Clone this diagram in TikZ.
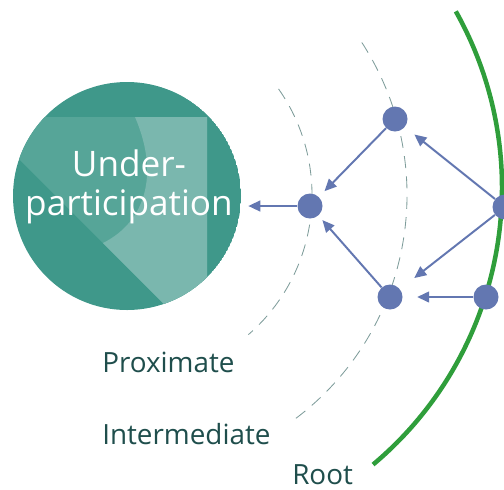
\documentclass[tikz,border=0pt]{standalone}
\usepackage{fontspec}
\setmainfont{Open Sans}
\usetikzlibrary{arrows.meta}
\definecolor{tealdark}{HTML}{3F988A}
\definecolor{tealmid}{HTML}{56A598}
\definecolor{teallight}{HTML}{7AB7AE}
\definecolor{dotblue}{HTML}{6377B1}
\definecolor{rootgreen}{HTML}{2F9E3B}
\definecolor{ringgray}{HTML}{7E9C9A}
\definecolor{tagtext}{HTML}{1F4E4C}
\begin{document}
\begin{tikzpicture}[x=0.025cm, y=-0.025cm,
        blob/.style={circle, fill=dotblue, inner sep=0pt, minimum size=0.625cm},
        flow/.style={draw=dotblue, line width=1.4pt, -{Triangle[length=0.3cm, width=0.27cm]}, shorten >=0.2cm},
        ring/.style={draw=ringgray, line width=0.6pt, dash pattern=on 8.5pt off 6pt},
        tag/.style={text=tagtext, font=\fontsize{19.8}{23}\selectfont, inner sep=0pt, anchor=base west}]
        \clip (0, 0) rectangle (504, 489);
        % big circle with its inner shading
        \begin{scope}
            \clip (127, 196) circle[radius=114];
            \fill[tealdark] (127, 196) circle[radius=114];
            \fill[tealmid] (-23, 117) -- (207, 117) -- (207, 347) -- cycle;
            \fill[teallight] (135, 117) .. controls (160, 175) and (145, 222) .. (103, 243) -- (207, 347) -- (207, 117) -- cycle;
        \end{scope}
        \node[circle, inner sep=0pt, minimum size=5.7cm] (under) at (127, 196) {};
        \node[text=white, align=center, font=\fontsize{25}{27.5}\selectfont] (undertext) at (129, 187) {Under-\\participation};
        % levels
        \draw[ring] (127, 195) ++(-35:185) arc[start angle=-35, end angle=49, radius=185];
        \draw[ring] (127, 195) ++(-33:280) arc[start angle=-33, end angle=54, radius=280];
        \draw[rootgreen, line width=3.2pt] (141, 188) ++(-29.3:361) arc[start angle=-29.3, end angle=50, radius=361];
        % causes
        \node[blob] (prox) at (310, 206) {};
        \node[blob] (midtop) at (395, 119) {};
        \node[blob] (midlow) at (390, 297) {};
        \node[blob] (roottop) at (505, 207) {};
        \node[blob] (rootlow) at (486, 297) {};
        \draw[flow, shorten >=0.175cm] (prox) -- (prox -| under.east);
        \draw[flow] (midtop) -- (prox);
        \draw[flow, shorten >=0.15cm] (midlow) -- (prox);
        \draw[flow, shorten >=0.3cm] (roottop) -- (midtop);
        \draw[flow, shorten >=0.45cm] (roottop) -- (midlow);
        \draw[flow, shorten >=0.36cm] (rootlow) -- (midlow);
        % level names
        \node[tag] (proxname) at (102, 372) {Proximate};
        \node[tag] (midname) at (102, 444) {Intermediate};
        \node[tag] (rootname) at (292, 484) {Root};
    \end{tikzpicture}
\end{document}
